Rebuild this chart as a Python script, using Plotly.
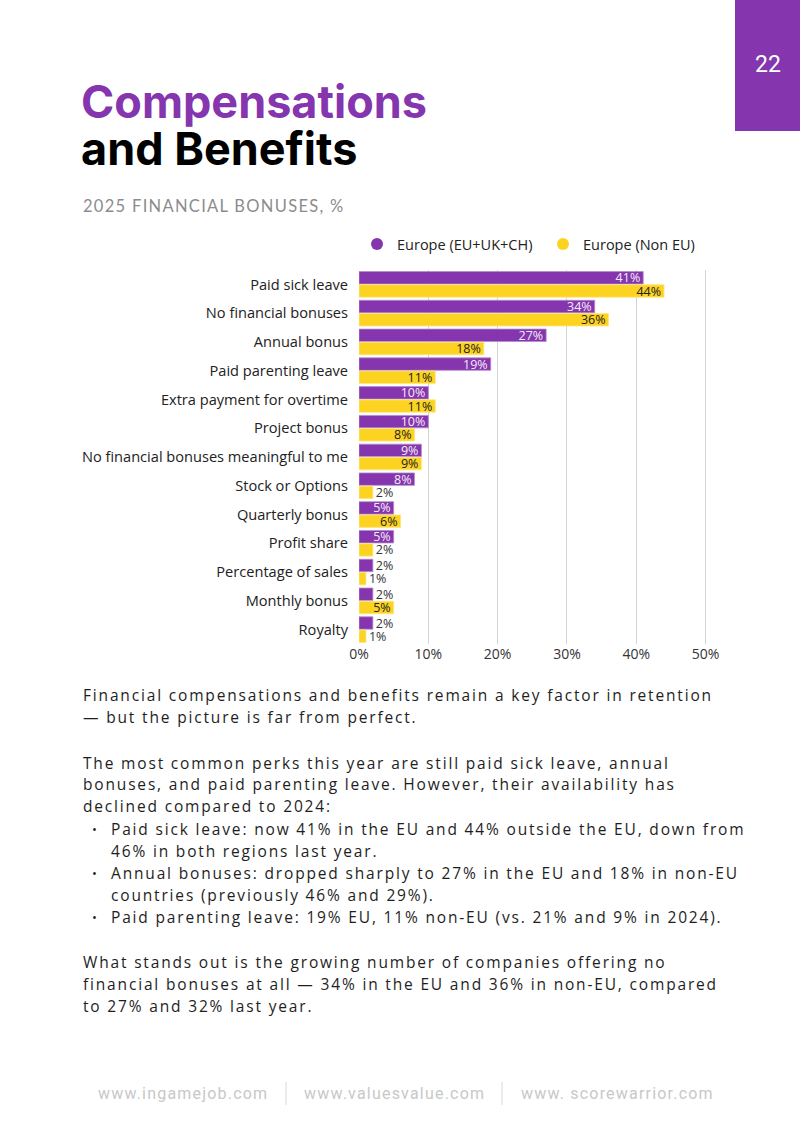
import json
import plotly.graph_objects as go

W, H = 800, 1131

categories = [
    "Paid sick leave", "No financial bonuses", "Annual bonus", "Paid parenting leave",
    "Extra payment for overtime", "Project bonus", "No financial bonuses meaningful to me",
    "Stock or Options", "Quarterly bonus", "Profit share", "Percentage of sales",
    "Monthly bonus", "Royalty",
]
eu_values = [41, 34, 27, 19, 10, 10, 9, 8, 5, 5, 2, 2, 2]
non_eu_values = [44, 36, 18, 11, 11, 8, 9, 2, 6, 2, 1, 5, 1]
series_names = ["Europe (EU+UK+CH)", "Europe (Non EU)"]
x_ticks = [0, 10, 20, 30, 40, 50]
x_tick_labels = ["0%", "10%", "20%", "30%", "40%", "50%"]

PURPLE = "#8535AD"
YELLOW = "#FDD322"

title_line1 = "Compensations"
title_line2 = "and Benefits"
subtitle = "2025 FINANCIAL BONUSES, %"
page_number = "22"

body_lines = [
    ("Financial compensations and benefits remain a key factor in retention", "p"),
    ("— but the picture is far from perfect.", "p"),
    (None, None),
    ("The most common perks this year are still paid sick leave, annual", "p"),
    ("bonuses, and paid parenting leave. However, their availability has", "p"),
    ("declined compared to 2024:", "p"),
    ("Paid sick leave: now 41% in the EU and 44% outside the EU, down from", "b"),
    ("46% in both regions last year.", "c"),
    ("Annual bonuses: dropped sharply to 27% in the EU and 18% in non-EU", "b"),
    ("countries (previously 46% and 29%).", "c"),
    ("Paid parenting leave: 19% EU, 11% non-EU (vs. 21% and 9% in 2024).", "b"),
    (None, None),
    ("What stands out is the growing number of companies offering no", "p"),
    ("financial bonuses at all — 34% in the EU and 36% in non-EU, compared", "p"),
    ("to 27% and 32% last year.", "p"),
]
footer_links = ["www.ingamejob.com", "www.valuesvalue.com", "www. scorewarrior.com"]


def px_x(x):
    return x / W


def px_y(y):
    return 1 - y / H


def text_positions(vals):
    return ["inside" if v >= 5 else "outside" for v in vals]


CHART_FONT = "Open Sans"

fig = go.Figure()
fig.add_trace(go.Bar(
    y=categories, x=eu_values, orientation="h", name=series_names[0],
    marker=dict(color=PURPLE, line=dict(color="#B48BCB", width=0.8)),
    text=[f"{v}%" for v in eu_values], textposition=text_positions(eu_values),
    insidetextanchor="end", constraintext="none", cliponaxis=False, textangle=0,
    insidetextfont=dict(color="#F3ECF7", size=12.5, family=CHART_FONT),
    outsidetextfont=dict(color="#333333", size=12.5, family=CHART_FONT),
    showlegend=False,
))
fig.add_trace(go.Bar(
    y=categories, x=non_eu_values, orientation="h", name=series_names[1],
    marker=dict(color=YELLOW, line=dict(color="#FFE680", width=0.8)),
    text=[f"{v}%" for v in non_eu_values], textposition=text_positions(non_eu_values),
    insidetextanchor="end", constraintext="none", cliponaxis=False, textangle=0,
    insidetextfont=dict(color="#222222", size=12.5, family=CHART_FONT),
    outsidetextfont=dict(color="#333333", size=12.5, family=CHART_FONT),
    showlegend=False,
))
# legend entries with circular markers
for name, col in zip(series_names, [PURPLE, YELLOW]):
    fig.add_trace(go.Scatter(x=[None], y=[None], mode="markers", name=name,
                             marker=dict(color=col, size=15, symbol="circle")))

fig.update_layout(
    width=W, height=H, autosize=False,
    margin=dict(l=0, r=0, t=0, b=0, pad=0, autoexpand=False),
    paper_bgcolor="white", plot_bgcolor="white",
    barmode="group", bargap=0.08, bargroupgap=0.06,
    font=dict(family=CHART_FONT, color="#222222"),
    showlegend=True,
    legend=dict(orientation="h", x=px_x(357), y=px_y(228), xanchor="left", yanchor="top",
                font=dict(size=14.5, family=CHART_FONT, color="#222222"),
                entrywidth=141, entrywidthmode="pixels", itemsizing="constant",
                bgcolor="rgba(0,0,0,0)"),
    xaxis=dict(domain=[px_x(359), px_x(707)], range=[0, 50.2], tickvals=x_ticks,
               ticktext=x_tick_labels, showgrid=True, gridcolor="#D4D4D4", gridwidth=1.2,
               zeroline=False, showline=False, ticks="", automargin=False,
               tickfont=dict(size=14, color="#333333", family=CHART_FONT)),
    yaxis=dict(domain=[px_y(644), px_y(270)], autorange="reversed", showgrid=False,
               ticks="", ticklabelstandoff=10, automargin=False,
               tickfont=dict(size=14.6, color="#222222", family=CHART_FONT)),
)

ann = []
spacing = {}


def add_ann(text, x, y, font, xanchor="left", ls=None):
    ann.append(dict(text=text, x=px_x(x), y=px_y(y), xref="paper", yref="paper",
                    xanchor=xanchor, yanchor="middle", showarrow=False, align="left",
                    font=font))
    if ls is not None:
        spacing[str(len(ann) - 1)] = ls


add_ann(title_line1, 79, 102, dict(family="Inter", size=45, color=PURPLE, weight=700))
add_ann(title_line2, 79, 148, dict(family="Inter", size=45, color="#000000", weight=700))
add_ann(subtitle, 81, 206, dict(family="Lato", size=16.5, color="#8C8C8C"), ls=1.3)
add_ann(page_number, 768, 64, dict(family="Roboto", size=23, color="white"), xanchor="center")

line_y = [695, 717, None, 763, 784, 806, 829, 851, 873, 895, 917, None, 962, 984, 1006]
BODY_FONT = dict(family="Open Sans", size=15.5, color="#1E1E1E")
for (txt, kind), yy in zip(body_lines, line_y):
    if txt is None:
        continue
    x0 = 81 if kind == "p" else 109
    add_ann(txt, x0, yy, BODY_FONT, ls=1.83)
    if kind == "b":
        add_ann("•", 94, yy, dict(family="Open Sans", size=13, color="#1E1E1E"),
                xanchor="center")

footer_x = [96, 302, 519]
for t, fx in zip(footer_links, footer_x):
    add_ann(t, fx, 1093, dict(family="Roboto", size=16, color="#C8C8C8"), ls=1.2)
fig.update_layout(annotations=ann)

shapes = [
    dict(type="rect", xref="paper", yref="paper", x0=px_x(735), x1=1, y0=px_y(131), y1=1,
         fillcolor=PURPLE, line=dict(width=0), layer="below"),
]
for sx in [286, 502]:
    shapes.append(dict(type="line", xref="paper", yref="paper", x0=px_x(sx), x1=px_x(sx),
                       y0=px_y(1082), y1=px_y(1105), line=dict(color="#D8D8D8", width=1)))
fig.update_layout(shapes=shapes)

post_js = """
document.body.style.margin = '0';
document.body.style.padding = '0';
document.body.style.overflow = 'hidden';
var gd = document.getElementById('{plot_id}');
var sp = SPACING;
Plotly.relayout(gd, {width: 800, height: 1131}).then(function() {
  gd.querySelectorAll('g.annotation').forEach(function(g) {
    var i = g.getAttribute('data-index');
    if (sp[i] !== undefined) {
      var t = g.querySelector('text.annotation-text');
      if (t) { t.style.letterSpacing = sp[i] + 'px'; }
    }
  });
});
""".replace("SPACING", json.dumps(spacing))

fig.write_html("out.html", post_script=post_js, config={"displayModeBar": False})
